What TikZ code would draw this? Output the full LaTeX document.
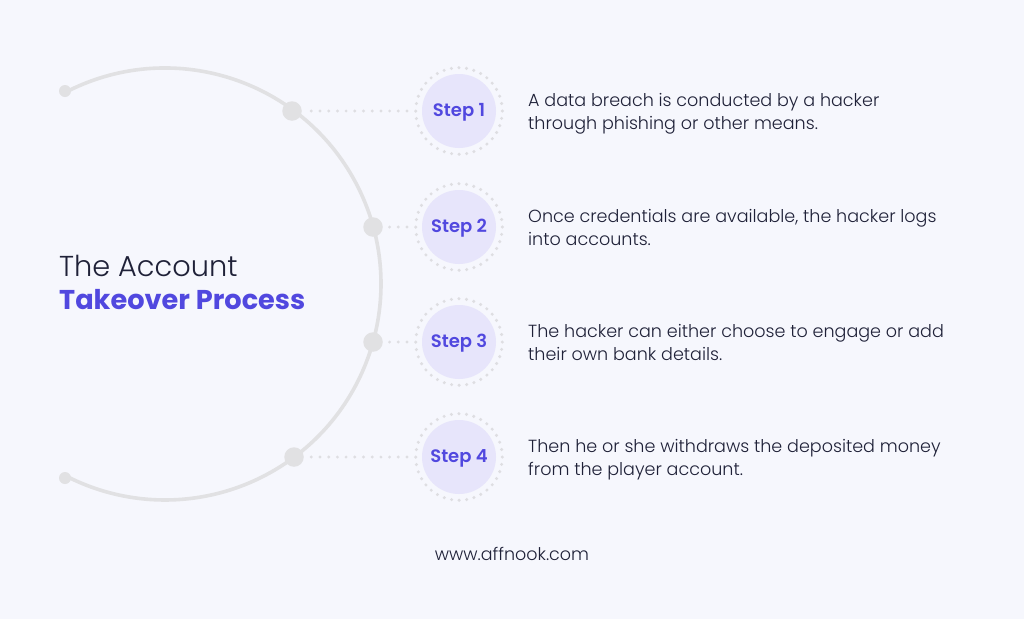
\documentclass[tikz,border=0pt]{standalone}
\usepackage{fontspec}
\setmainfont{Poppins}
\newfontfamily\poplight{Poppins Light}
\newfontfamily\popsemi{Poppins SemiBold}
\definecolor{bgc}{HTML}{F6F7FD}
\definecolor{arcc}{HTML}{E1E1E3}
\definecolor{dotc}{HTML}{DEDEE2}
\definecolor{fillc}{HTML}{E7E5FB}
\definecolor{purp}{HTML}{5148DF}
\definecolor{ink}{HTML}{1F2138}
\tikzset{
  arcline/.style={draw=arcc,line width=3.6pt},
  bigdot/.style={circle,fill=arcc,inner sep=0pt,minimum size=19.5pt},
  enddot/.style={circle,fill=arcc,inner sep=0pt,minimum size=12pt},
  stepdisc/.style={circle,fill=fillc,inner sep=0pt,minimum size=74pt,text=purp,text height=13pt,text depth=1.5pt,font=\fontsize{18}{20}\selectfont\popsemi},
  ring/.style={draw=dotc,line width=3.4pt,line cap=round,dash pattern=on 0pt off 7.56pt},
  link/.style={draw=dotc,line width=3.2pt,line cap=round,dash pattern=on 0pt off 8.7pt},
  desc/.style={anchor=west,align=left,text=ink,font=\fontsize{17.55}{23}\selectfont\poplight,inner sep=0pt}
}
\begin{document}
\begin{tikzpicture}[x=1pt,y=-1pt]
\useasboundingbox (0,0) rectangle (1024,619);
\fill[bgc] (0,0) rectangle (1024,619);
\node[enddot] (e1) at (65,91) {};
\node[enddot] (e2) at (65,478) {};
\coordinate (a1) at (68.6,90.7);
\draw[arcline] (a1) arc[start angle=116.5,end angle=-116.5,radius=216pt];
\foreach \n/\dx/\y/\ty/\lab in {1/292/111/114/{A data breach is conducted by a hacker\\through phishing or other means.},
 2/373/227/227/{Once credentials are available, the hacker logs\\into accounts.},
 3/373/342/342/{The hacker can either choose to engage or add\\their own bank details.},
 4/294/457/460/{Then he or she withdraws the deposited money\\from the player account.}}{
  \node[bigdot] (d\n) at (\dx,\y) {};
  \node[stepdisc] (s\n) at (459,\y) {Step \n};
  \draw[ring] (s\n.center) circle[radius=43.3pt];
  \coordinate (r\n) at ([xshift=-43.3pt]s\n.center);
  \draw[link] ([xshift=-8.7pt]r\n) -- ([xshift=5pt]d\n.east);
  \node[desc] (t\n) at (528,\ty) {\lab};
}
\node[anchor=west,inner sep=0pt,text=ink,font=\fontsize{28.8}{34}\selectfont\poplight] (title1) at (59,266) {The Account};
\node[anchor=west,inner sep=0pt,text=purp,font=\fontsize{27.2}{34}\selectfont\bfseries] (title2) at (59,300) {Takeover Process};
\node[inner sep=0pt,text=ink,font=\fontsize{17.5}{20}\selectfont\poplight] (web) at (512,554) {www.affnook.com};
\end{tikzpicture}
\end{document}
